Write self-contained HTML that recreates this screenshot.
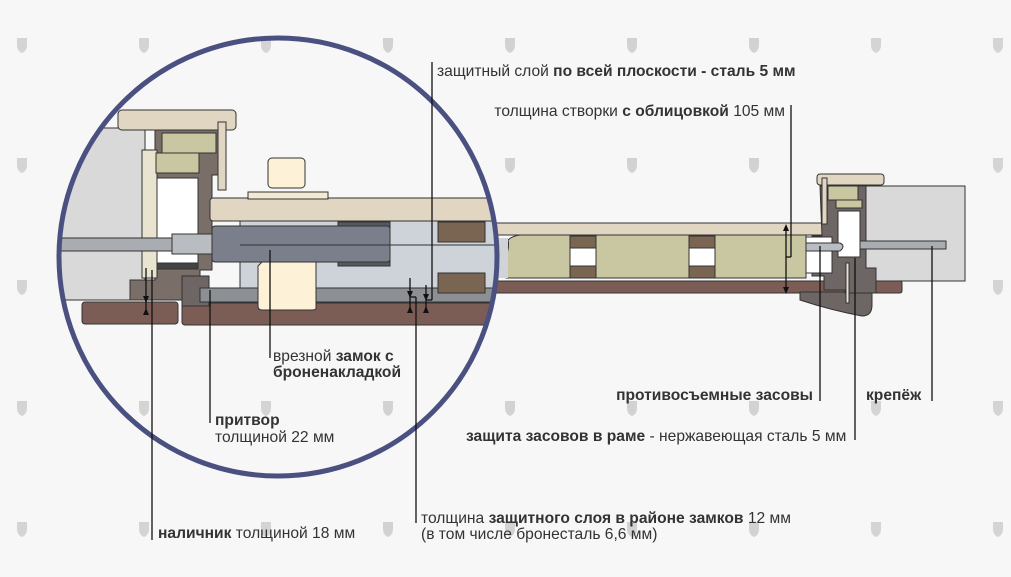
<!DOCTYPE html>
<html><head><meta charset="utf-8"><style>
html,body{margin:0;padding:0;background:#f7f7f7;}
svg{display:block;}
text{font-family:"Liberation Sans",sans-serif;font-size:15.6px;fill:#333;}
.b{font-weight:bold;}
</style></head><body>
<svg width="1011" height="577" viewBox="0 0 1011 577" xmlns="http://www.w3.org/2000/svg">
<rect width="1011" height="577" fill="#f7f7f7"/>
<g fill="#cfcfcf" opacity="0.9">
<path d="M17,38h10v7q0,6-5,8q-5-2-5-8z"/><path d="M139,38h10v7q0,6-5,8q-5-2-5-8z"/><path d="M261,38h10v7q0,6-5,8q-5-2-5-8z"/><path d="M383,38h10v7q0,6-5,8q-5-2-5-8z"/><path d="M505,38h10v7q0,6-5,8q-5-2-5-8z"/><path d="M627,38h10v7q0,6-5,8q-5-2-5-8z"/><path d="M749,38h10v7q0,6-5,8q-5-2-5-8z"/><path d="M871,38h10v7q0,6-5,8q-5-2-5-8z"/><path d="M993,38h10v7q0,6-5,8q-5-2-5-8z"/>
<path d="M17,158h10v7q0,6-5,8q-5-2-5-8z"/><path d="M505,158h10v7q0,6-5,8q-5-2-5-8z"/><path d="M627,158h10v7q0,6-5,8q-5-2-5-8z"/><path d="M749,158h10v7q0,6-5,8q-5-2-5-8z"/><path d="M993,158h10v7q0,6-5,8q-5-2-5-8z"/>
<path d="M17,280h10v7q0,6-5,8q-5-2-5-8z"/><path d="M993,280h10v7q0,6-5,8q-5-2-5-8z"/>
<path d="M17,401h10v7q0,6-5,8q-5-2-5-8z"/><path d="M139,401h10v7q0,6-5,8q-5-2-5-8z"/><path d="M261,401h10v7q0,6-5,8q-5-2-5-8z"/><path d="M383,401h10v7q0,6-5,8q-5-2-5-8z"/><path d="M505,401h10v7q0,6-5,8q-5-2-5-8z"/><path d="M627,401h10v7q0,6-5,8q-5-2-5-8z"/><path d="M749,401h10v7q0,6-5,8q-5-2-5-8z"/><path d="M871,401h10v7q0,6-5,8q-5-2-5-8z"/><path d="M993,401h10v7q0,6-5,8q-5-2-5-8z"/>
<path d="M17,522h10v7q0,6-5,8q-5-2-5-8z"/><path d="M139,522h10v7q0,6-5,8q-5-2-5-8z"/><path d="M261,522h10v7q0,6-5,8q-5-2-5-8z"/><path d="M383,522h10v7q0,6-5,8q-5-2-5-8z"/><path d="M505,522h10v7q0,6-5,8q-5-2-5-8z"/><path d="M627,522h10v7q0,6-5,8q-5-2-5-8z"/><path d="M749,522h10v7q0,6-5,8q-5-2-5-8z"/><path d="M871,522h10v7q0,6-5,8q-5-2-5-8z"/><path d="M993,522h10v7q0,6-5,8q-5-2-5-8z"/>
</g>

<g stroke="#333" stroke-width="1">
<rect x="480" y="281" width="422" height="12" rx="2" fill="#7b5d55"/>
<rect x="480" y="223" width="352" height="12" fill="#e1d6c1"/>
<path d="M480,235 H806 V278 H506 Q500,270 505,258 Q510,248 508,240 Q512,236 520,235 Z" fill="#c9c7a2"/>
<rect x="480" y="238" width="28" height="40" fill="#d0d4d8" stroke="none"/>
<rect x="570" y="236" width="26" height="12" fill="#7a6452"/><rect x="570" y="248" width="26" height="18" fill="#fff"/><rect x="570" y="266" width="26" height="12" fill="#7a6452"/>
<rect x="689" y="236" width="26" height="12" fill="#7a6452"/><rect x="689" y="248" width="26" height="18" fill="#fff"/><rect x="689" y="266" width="26" height="12" fill="#7a6452"/>
</g>

<g stroke="#333" stroke-width="1">
<rect x="858" y="186" width="107" height="95" fill="#d9d9da"/>
<path d="M800,292 H872 V305 Q872,316 862,316 Q830,310 800,300 Z" fill="#6d6664"/>
<path d="M820,186 H866 V268 H876 V293 H845 V290 H824 V276 H812 V236 H822 Z" fill="#6e6664"/>
<rect x="817" y="174" width="67" height="11" rx="3" fill="#e1d6c1"/>
<rect x="822" y="178" width="5" height="46" fill="#e1d6c1"/>
<rect x="828" y="186" width="30" height="14" fill="#c9c7a2"/>
<rect x="836" y="200" width="26" height="8" fill="#c9c7a2"/>
<rect x="838" y="211" width="22" height="46" fill="#fff"/>
<rect x="806" y="237" width="26" height="36" fill="#fff"/>
<path d="M806,243 H840 Q846,246 840,251 H806 Z" fill="#b9bcc1"/>
<rect x="860" y="241" width="86" height="8" fill="#a9acb1"/>
<rect x="846" y="263" width="3" height="40" fill="#e8e4d0"/>
</g>

<defs><clipPath id="c"><circle cx="278" cy="257" r="219"/></clipPath></defs>
<g clip-path="url(#c)" stroke="#333" stroke-width="1">
<rect x="40" y="128" width="105" height="172" fill="#d9d9da"/>
<rect x="82" y="302" width="96" height="22" rx="3" fill="#7b5d55"/>
<rect x="182" y="303" width="320" height="22" rx="3" fill="#7b5d55"/>
<path d="M130,280 H155 V130 H218 V175 H212 V270 H200 V300 H130 Z" fill="#7a6e68"/>
<rect x="142" y="150" width="15" height="128" fill="#e8e4d0"/>
<rect x="118" y="110" width="118" height="20" rx="4" fill="#e1d6c1"/>
<rect x="218" y="122" width="8" height="68" fill="#e1d6c1"/>
<rect x="162" y="133" width="54" height="20" fill="#c9c7a2"/>
<rect x="156" y="153" width="43" height="20" fill="#c9c7a2"/>
<rect x="157" y="178" width="41" height="85" fill="#fff"/>
<rect x="157" y="263" width="41" height="6" fill="#444"/>
<rect x="182" y="276" width="27" height="30" fill="#6d6664"/>
<rect x="40" y="238" width="140" height="13" fill="#a9acb1"/>
<rect x="172" y="234" width="46" height="20" fill="#b9bcc1"/>
<rect x="240" y="220" width="262" height="82" fill="#cdd3d8"/>
<rect x="200" y="288" width="302" height="14" fill="#8c8f94"/>
<rect x="210" y="198" width="292" height="23" rx="3" fill="#e1d6c1"/>
<rect x="248" y="192" width="80" height="7" fill="#f3ead4"/>
<rect x="268" y="158" width="37" height="30" rx="4" fill="#fdf2d8"/>
<rect x="338" y="222" width="52" height="44" fill="#55585e"/>
<rect x="212" y="226" width="178" height="36" rx="3" fill="#7b7f8c"/>
<path d="M262,262 H316 V308 Q316,310 312,310 H262 Q258,310 258,306 V266 Z" fill="#fdf2d8"/>
<rect x="438" y="222" width="47" height="20" fill="#7a6452"/>
<rect x="438" y="273" width="47" height="20" fill="#7a6452"/>
<line x1="240" y1="245" x2="502" y2="245"/>
</g>
<circle cx="278" cy="257" r="219" fill="none" stroke="#4a5080" stroke-width="5"/>

<g stroke="#111" stroke-width="1.3" fill="none">
<line x1="432" y1="62" x2="432" y2="300"/>
<line x1="432" y1="300" x2="426" y2="300"/>
<line x1="791" y1="105" x2="791" y2="257"/><line x1="791" y1="257" x2="786" y2="257"/>
<line x1="786" y1="226" x2="786" y2="292"/>
<line x1="270" y1="250" x2="270" y2="358"/>
<line x1="210" y1="290" x2="210" y2="423"/>
<line x1="152" y1="270" x2="152" y2="540"/>
<line x1="146" y1="268" x2="146" y2="312"/>
<line x1="416" y1="297" x2="416" y2="523"/><line x1="410" y1="297" x2="416" y2="297"/>
<line x1="410" y1="278" x2="410" y2="312"/>
<line x1="426" y1="285" x2="426" y2="312"/>
<line x1="820" y1="246" x2="820" y2="401"/>
<line x1="855" y1="258" x2="855" y2="440"/>
<line x1="932" y1="246" x2="932" y2="401"/>
</g>
<g fill="#111">
<path d="M786,224 l-3,7 h6z"/><path d="M786,294 l-3,-7 h6z"/>
<path d="M146,303 l-3,-7 h6z"/><path d="M146,308 l-3,7 h6z"/>
<path d="M410,298 l-3,-7 h6z"/><path d="M410,306 l-3,7 h6z"/>
<path d="M426,301 l-3,-7 h6z"/><path d="M426,306 l-3,7 h6z"/>
</g>

<text x="437" y="76">защитный слой <tspan class="b">по всей плоскости - сталь 5 мм</tspan></text>
<text x="785" y="116" text-anchor="end">толщина створки <tspan class="b">с облицовкой</tspan> 105 мм</text>
<text x="273" y="361">врезной <tspan class="b">замок с</tspan></text>
<text x="273" y="377" class="b">броненакладкой</text>
<text x="215" y="425" class="b">притвор</text>
<text x="215" y="442">толщиной 22 мм</text>
<text x="158" y="538"><tspan class="b">наличник</tspan> толщиной 18 мм</text>
<text x="421" y="523">толщина <tspan class="b">защитного слоя в районе замков</tspan> 12 мм</text>
<text x="421" y="539">(в том числе бронесталь 6,6 мм)</text>
<text x="813" y="400" text-anchor="end" class="b">противосъемные засовы</text>
<text x="866" y="400" class="b">крепёж</text>
<text x="466" y="441"><tspan class="b">защита засовов в раме</tspan> - нержавеющая сталь 5 мм</text>
</svg>
</body></html>
